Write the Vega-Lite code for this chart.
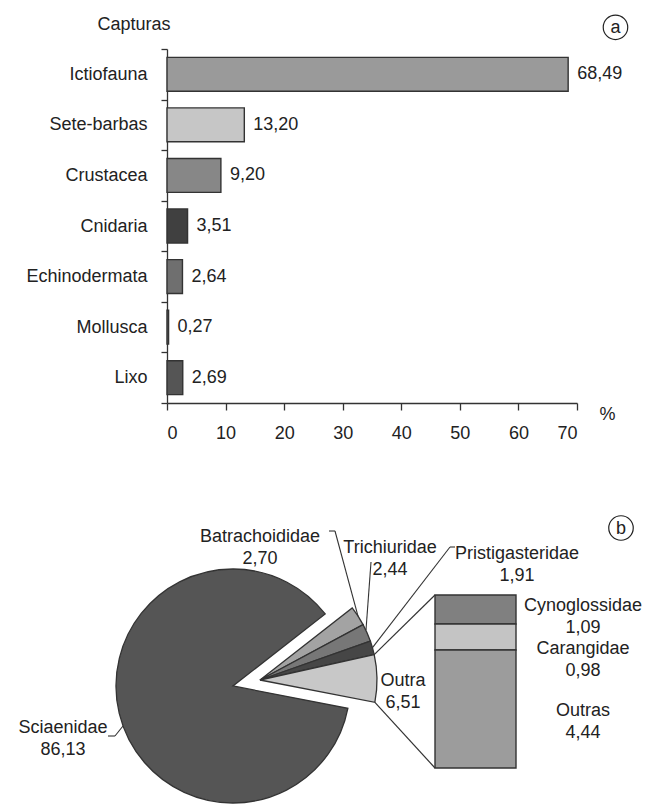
{
  "$schema": "https://vega.github.io/schema/vega-lite/v6.json",
  "width": 646,
  "height": 804,
  "autosize": {"type": "none"},
  "padding": 0,
  "background": "white",
  "config": {
    "view": {"stroke": null},
    "font": "Liberation Sans",
    "text": {"font": "Liberation Sans", "fontSize": 18, "color": "#222222"},
    "rule": {"stroke": "#333333", "strokeWidth": 1.1}
  },
  "datasets": {
    "capturas": [
      {"grupo": "Ictiofauna", "pct": 68.49},
      {"grupo": "Sete-barbas", "pct": 13.20},
      {"grupo": "Crustacea", "pct": 9.20},
      {"grupo": "Cnidaria", "pct": 3.51},
      {"grupo": "Echinodermata", "pct": 2.64},
      {"grupo": "Mollusca", "pct": 0.27},
      {"grupo": "Lixo", "pct": 2.69}
    ],
    "familias": [
      {"familia": "Batrachoididae", "pct": 2.70},
      {"familia": "Trichiuridae", "pct": 2.44},
      {"familia": "Pristigasteridae", "pct": 1.91},
      {"familia": "Outra", "pct": 6.51},
      {"familia": "Sciaenidae", "pct": 86.13}
    ],
    "outra": [
      {"familia": "Cynoglossidae", "pct": 1.09},
      {"familia": "Carangidae", "pct": 0.98},
      {"familia": "Outras", "pct": 4.44}
    ],
    "paineis": [{"painel": "a"}, {"painel": "b"}]
  },
  "resolve": {"scale": {"x": "independent", "y": "independent"}},
  "layer": [
    {
      "data": {"name": "capturas"},
      "mark": {"type": "bar", "height": {"band": 0.67}, "stroke": "#333333", "strokeWidth": 1.4},
      "encoding": {
        "y": {
          "field": "grupo", "type": "nominal", "sort": null,
          "scale": {"type": "band", "domain": ["Ictiofauna", "Sete-barbas", "Crustacea", "Cnidaria", "Echinodermata", "Mollusca", "Lixo"], "range": [49, 403], "paddingInner": 0, "paddingOuter": 0},
          "axis": {
            "orient": "left", "offset": -167, "tickBand": "extent", "tickSize": 6,
            "tickColor": "#333333", "tickWidth": 1.3, "domainColor": "#333333", "domainWidth": 1.3,
            "labelFont": "Liberation Sans", "labelFontSize": 18, "labelColor": "#222222", "labelPadding": 14, "labelLimit": 0,
            "grid": false,
            "title": "Capturas", "titleFont": "Liberation Sans", "titleFontSize": 18, "titleFontWeight": "normal", "titleColor": "#222222",
            "titleAngle": 0, "titleAlign": "left", "titleBaseline": "middle", "titleX": -70, "titleY": 24
          }
        },
        "x": {
          "field": "pct", "type": "quantitative",
          "scale": {"domain": [0, 70], "range": [167, 577], "nice": false, "zero": true},
          "axis": {
            "orient": "bottom", "offset": -401, "values": [0, 10, 20, 30, 40, 50, 60, 70], "tickSize": 7,
            "tickColor": "#333333", "tickWidth": 1.3, "domainColor": "#333333", "domainWidth": 1.3,
            "labelFont": "Liberation Sans", "labelFontSize": 18, "labelColor": "#222222", "labelPadding": 14,
            "grid": false,
            "title": "%", "titleFont": "Liberation Sans", "titleFontSize": 18, "titleFontWeight": "normal", "titleColor": "#222222",
            "titleAlign": "center", "titleBaseline": "middle", "titleX": 607, "titleY": 11
          }
        },
        "fill": {
          "field": "grupo", "type": "nominal", "legend": null,
          "scale": {
            "domain": ["Ictiofauna", "Sete-barbas", "Crustacea", "Cnidaria", "Echinodermata", "Mollusca", "Lixo", "Sciaenidae", "Batrachoididae", "Trichiuridae", "Pristigasteridae", "Outra", "Cynoglossidae", "Carangidae", "Outras"],
            "range": ["#9a9a9a", "#c6c6c6", "#878787", "#404040", "#6f6f6f", "#7a7a7a", "#555555", "#555555", "#a3a3a3", "#777777", "#464646", "#c8c8c8", "#808080", "#c4c4c4", "#9c9c9c"]
          }
        }
      }
    },
    {
      "data": {"name": "capturas"},
      "transform": [{"calculate": "replace(format(datum.pct, '.2f'), '.', ',')", "as": "rotulo"}],
      "mark": {"type": "text", "align": "left", "baseline": "middle", "dx": 9, "fontSize": 18},
      "encoding": {
        "y": {"field": "grupo", "type": "nominal", "sort": null, "axis": null,
              "scale": {"type": "band", "domain": ["Ictiofauna", "Sete-barbas", "Crustacea", "Cnidaria", "Echinodermata", "Mollusca", "Lixo"], "range": [49, 403], "paddingInner": 0, "paddingOuter": 0}},
        "x": {"field": "pct", "type": "quantitative", "axis": null, "scale": {"domain": [0, 70], "range": [167, 577], "nice": false, "zero": true}},
        "text": {"field": "rotulo"}
      }
    },
    {
      "data": {"name": "paineis"},
      "transform": [{"filter": "datum.painel === 'a'"}],
      "mark": {"type": "point", "shape": "circle", "filled": false, "size": 600, "stroke": "#222222", "strokeWidth": 1.2, "opacity": 1, "yOffset": -47},
      "encoding": {
        "x": {"datum": 76.57, "type": "quantitative", "axis": null, "scale": {"domain": [0, 70], "range": [167, 577], "nice": false, "zero": true}},
        "y": {"datum": "Ictiofauna", "type": "nominal", "axis": null,
              "scale": {"type": "band", "domain": ["Ictiofauna", "Sete-barbas", "Crustacea", "Cnidaria", "Echinodermata", "Mollusca", "Lixo"], "range": [49, 403], "paddingInner": 0, "paddingOuter": 0}}
      }
    },
    {
      "data": {"name": "paineis"},
      "transform": [{"filter": "datum.painel === 'a'"}],
      "mark": {"type": "text", "align": "center", "baseline": "middle", "fontSize": 18, "yOffset": -46},
      "encoding": {
        "x": {"datum": 76.57, "type": "quantitative", "axis": null, "scale": {"domain": [0, 70], "range": [167, 577], "nice": false, "zero": true}},
        "y": {"datum": "Ictiofauna", "type": "nominal", "axis": null,
              "scale": {"type": "band", "domain": ["Ictiofauna", "Sete-barbas", "Crustacea", "Cnidaria", "Echinodermata", "Mollusca", "Lixo"], "range": [49, 403], "paddingInner": 0, "paddingOuter": 0}},
        "text": {"field": "painel"}
      }
    },
    {
      "data": {"name": "familias"},
      "transform": [{"window": [{"op": "row_number", "as": "ordem"}]}],
      "mark": {"type": "arc", "radius": 117, "stroke": "#333333", "strokeWidth": 1.3},
      "encoding": {
        "x": {"datum": -2.4938, "type": "quantitative", "axis": null, "scale": {"domain": [0, 1], "range": [435, 516], "nice": false, "zero": false}},
        "y": {"datum": 3.0856, "type": "quantitative", "axis": null, "scale": {"domain": [0, 6.51], "range": [768, 595], "nice": false, "zero": false}},
        "theta": {"field": "pct", "type": "quantitative", "stack": true, "scale": {"range": [0.9076, 7.1908], "nice": false, "zero": true}},
        "order": {"field": "ordem", "type": "quantitative", "sort": "ascending"},
        "fill": {
          "field": "familia", "type": "nominal", "legend": null,
          "scale": {
            "domain": ["Ictiofauna", "Sete-barbas", "Crustacea", "Cnidaria", "Echinodermata", "Mollusca", "Lixo", "Sciaenidae", "Batrachoididae", "Trichiuridae", "Pristigasteridae", "Outra", "Cynoglossidae", "Carangidae", "Outras"],
            "range": ["#9a9a9a", "#c6c6c6", "#878787", "#404040", "#6f6f6f", "#7a7a7a", "#555555", "#555555", "#a3a3a3", "#777777", "#464646", "#c8c8c8", "#808080", "#c4c4c4", "#9c9c9c"]
          }
        },
        "opacity": {"condition": {"test": "datum.familia === 'Sciaenidae'", "value": 1}, "value": 0}
      }
    },
    {
      "data": {"name": "familias"},
      "transform": [{"window": [{"op": "row_number", "as": "ordem"}]}],
      "mark": {"type": "arc", "radius": 117, "stroke": "#333333", "strokeWidth": 1.3},
      "encoding": {
        "x": {"datum": -2.1605, "type": "quantitative", "axis": null, "scale": {"domain": [0, 1], "range": [435, 516], "nice": false, "zero": false}},
        "y": {"datum": 3.3114, "type": "quantitative", "axis": null, "scale": {"domain": [0, 6.51], "range": [768, 595], "nice": false, "zero": false}},
        "theta": {"field": "pct", "type": "quantitative", "stack": true, "scale": {"range": [0.9076, 7.1908], "nice": false, "zero": true}},
        "order": {"field": "ordem", "type": "quantitative", "sort": "ascending"},
        "fill": {
          "field": "familia", "type": "nominal", "legend": null,
          "scale": {
            "domain": ["Ictiofauna", "Sete-barbas", "Crustacea", "Cnidaria", "Echinodermata", "Mollusca", "Lixo", "Sciaenidae", "Batrachoididae", "Trichiuridae", "Pristigasteridae", "Outra", "Cynoglossidae", "Carangidae", "Outras"],
            "range": ["#9a9a9a", "#c6c6c6", "#878787", "#404040", "#6f6f6f", "#7a7a7a", "#555555", "#555555", "#a3a3a3", "#777777", "#464646", "#c8c8c8", "#808080", "#c4c4c4", "#9c9c9c"]
          }
        },
        "opacity": {"condition": {"test": "datum.familia === 'Sciaenidae'", "value": 0}, "value": 1}
      }
    },
    {
      "data": {"name": "outra"},
      "transform": [
        {"window": [{"op": "row_number", "as": "ordem"}]},
        {"stack": "pct", "groupby": [], "sort": [{"field": "ordem", "order": "descending"}], "as": ["y0", "y1"]}
      ],
      "mark": {"type": "rect", "stroke": "#333333", "strokeWidth": 1.4},
      "encoding": {
        "x": {"datum": 0, "type": "quantitative", "axis": null, "scale": {"domain": [0, 1], "range": [435, 516], "nice": false, "zero": false}},
        "x2": {"datum": 1},
        "y": {"field": "y0", "type": "quantitative", "axis": null, "scale": {"domain": [0, 6.51], "range": [768, 595], "nice": false, "zero": false}},
        "y2": {"field": "y1"},
        "fill": {
          "field": "familia", "type": "nominal", "legend": null,
          "scale": {
            "domain": ["Ictiofauna", "Sete-barbas", "Crustacea", "Cnidaria", "Echinodermata", "Mollusca", "Lixo", "Sciaenidae", "Batrachoididae", "Trichiuridae", "Pristigasteridae", "Outra", "Cynoglossidae", "Carangidae", "Outras"],
            "range": ["#9a9a9a", "#c6c6c6", "#878787", "#404040", "#6f6f6f", "#7a7a7a", "#555555", "#555555", "#a3a3a3", "#777777", "#464646", "#c8c8c8", "#808080", "#c4c4c4", "#9c9c9c"]
          }
        }
      }
    },
    {
      "data": {"name": "paineis"},
      "transform": [{"filter": "datum.painel === 'b'"}],
      "mark": {"type": "rule", "strokeWidth": 1.2},
      "encoding": {
        "x": {"datum": -0.7506, "type": "quantitative", "axis": null, "scale": {"domain": [0, 1], "range": [435, 516], "nice": false, "zero": false}},
        "y": {"datum": 4.267, "type": "quantitative", "axis": null, "scale": {"domain": [0, 6.51], "range": [768, 595], "nice": false, "zero": false}},
        "x2": {"datum": 0},
        "y2": {"datum": 6.51}
      }
    },
    {
      "data": {"name": "paineis"},
      "transform": [{"filter": "datum.painel === 'b'"}],
      "mark": {"type": "rule", "strokeWidth": 1.2},
      "encoding": {
        "x": {"datum": -0.742, "type": "quantitative", "axis": null, "scale": {"domain": [0, 1], "range": [435, 516], "nice": false, "zero": false}},
        "y": {"datum": 2.472, "type": "quantitative", "axis": null, "scale": {"domain": [0, 6.51], "range": [768, 595], "nice": false, "zero": false}},
        "x2": {"datum": 0},
        "y2": {"datum": 0}
      }
    },
    {
      "data": {"name": "paineis"},
      "transform": [{"filter": "datum.painel === 'b'"}],
      "mark": {"type": "rule"},
      "encoding": {
        "x": {"datum": -1.3086, "type": "quantitative", "axis": null, "scale": {"domain": [0, 1], "range": [435, 516], "nice": false, "zero": false}},
        "y": {"datum": 8.918, "type": "quantitative", "axis": null, "scale": {"domain": [0, 6.51], "range": [768, 595], "nice": false, "zero": false}},
        "x2": {"datum": -1.2346},
        "y2": {"datum": 8.918}
      }
    },
    {
      "data": {"name": "paineis"},
      "transform": [{"filter": "datum.painel === 'b'"}],
      "mark": {"type": "rule"},
      "encoding": {
        "x": {"datum": -1.2346, "type": "quantitative", "axis": null, "scale": {"domain": [0, 1], "range": [435, 516], "nice": false, "zero": false}},
        "y": {"datum": 8.918, "type": "quantitative", "axis": null, "scale": {"domain": [0, 6.51], "range": [768, 595], "nice": false, "zero": false}},
        "x2": {"datum": -0.9506},
        "y2": {"datum": 5.716}
      }
    },
    {
      "data": {"name": "paineis"},
      "transform": [{"filter": "datum.painel === 'b'"}],
      "mark": {"type": "rule"},
      "encoding": {
        "x": {"datum": -0.7901, "type": "quantitative", "axis": null, "scale": {"domain": [0, 1], "range": [435, 516], "nice": false, "zero": false}},
        "y": {"datum": 7.752, "type": "quantitative", "axis": null, "scale": {"domain": [0, 6.51], "range": [768, 595], "nice": false, "zero": false}},
        "x2": {"datum": -0.8519},
        "y2": {"datum": 5.193}
      }
    },
    {
      "data": {"name": "paineis"},
      "transform": [{"filter": "datum.painel === 'b'"}],
      "mark": {"type": "rule"},
      "encoding": {
        "x": {"datum": 0.1852, "type": "quantitative", "axis": null, "scale": {"domain": [0, 1], "range": [435, 516], "nice": false, "zero": false}},
        "y": {"datum": 8.316, "type": "quantitative", "axis": null, "scale": {"domain": [0, 6.51], "range": [768, 595], "nice": false, "zero": false}},
        "x2": {"datum": 0.2469},
        "y2": {"datum": 8.316}
      }
    },
    {
      "data": {"name": "paineis"},
      "transform": [{"filter": "datum.painel === 'b'"}],
      "mark": {"type": "rule"},
      "encoding": {
        "x": {"datum": 0.1852, "type": "quantitative", "axis": null, "scale": {"domain": [0, 1], "range": [435, 516], "nice": false, "zero": false}},
        "y": {"datum": 8.316, "type": "quantitative", "axis": null, "scale": {"domain": [0, 6.51], "range": [768, 595], "nice": false, "zero": false}},
        "x2": {"datum": -0.7716},
        "y2": {"datum": 4.527}
      }
    },
    {
      "data": {"name": "paineis"},
      "transform": [{"filter": "datum.painel === 'b'"}],
      "mark": {"type": "rule"},
      "encoding": {
        "x": {"datum": -4.037, "type": "quantitative", "axis": null, "scale": {"domain": [0, 1], "range": [435, 516], "nice": false, "zero": false}},
        "y": {"datum": 1.204, "type": "quantitative", "axis": null, "scale": {"domain": [0, 6.51], "range": [768, 595], "nice": false, "zero": false}},
        "x2": {"datum": -3.951},
        "y2": {"datum": 1.204}
      }
    },
    {
      "data": {"name": "paineis"},
      "transform": [{"filter": "datum.painel === 'b'"}],
      "mark": {"type": "rule"},
      "encoding": {
        "x": {"datum": -3.951, "type": "quantitative", "axis": null, "scale": {"domain": [0, 1], "range": [435, 516], "nice": false, "zero": false}},
        "y": {"datum": 1.204, "type": "quantitative", "axis": null, "scale": {"domain": [0, 6.51], "range": [768, 595], "nice": false, "zero": false}},
        "x2": {"datum": -3.852},
        "y2": {"datum": 1.58}
      }
    },
    {
      "data": {"name": "familias"},
      "transform": [
        {"filter": "datum.familia === 'Sciaenidae'"},
        {"calculate": "[datum.familia, replace(format(datum.pct, '.2f'), '.', ',')]", "as": "rotulo"}
      ],
      "mark": {"type": "text", "align": "center", "baseline": "middle", "lineHeight": 22, "fontSize": 18},
      "encoding": {
        "x": {"datum": -4.5926, "type": "quantitative", "axis": null, "scale": {"domain": [0, 1], "range": [435, 516], "nice": false, "zero": false}},
        "y": {"datum": 1.524, "type": "quantitative", "axis": null, "scale": {"domain": [0, 6.51], "range": [768, 595], "nice": false, "zero": false}},
        "text": {"field": "rotulo"}
      }
    },
    {
      "data": {"name": "familias"},
      "transform": [
        {"filter": "datum.familia === 'Batrachoididae'"},
        {"calculate": "[datum.familia, replace(format(datum.pct, '.2f'), '.', ',')]", "as": "rotulo"}
      ],
      "mark": {"type": "text", "align": "center", "baseline": "middle", "lineHeight": 22, "fontSize": 18},
      "encoding": {
        "x": {"datum": -2.1605, "type": "quantitative", "axis": null, "scale": {"domain": [0, 1], "range": [435, 516], "nice": false, "zero": false}},
        "y": {"datum": 8.674, "type": "quantitative", "axis": null, "scale": {"domain": [0, 6.51], "range": [768, 595], "nice": false, "zero": false}},
        "text": {"field": "rotulo"}
      }
    },
    {
      "data": {"name": "familias"},
      "transform": [
        {"filter": "datum.familia === 'Trichiuridae'"},
        {"calculate": "[datum.familia, replace(format(datum.pct, '.2f'), '.', ',')]", "as": "rotulo"}
      ],
      "mark": {"type": "text", "align": "center", "baseline": "middle", "lineHeight": 22, "fontSize": 18},
      "encoding": {
        "x": {"datum": -0.5556, "type": "quantitative", "axis": null, "scale": {"domain": [0, 1], "range": [435, 516], "nice": false, "zero": false}},
        "y": {"datum": 8.26, "type": "quantitative", "axis": null, "scale": {"domain": [0, 6.51], "range": [768, 595], "nice": false, "zero": false}},
        "text": {"field": "rotulo"}
      }
    },
    {
      "data": {"name": "familias"},
      "transform": [
        {"filter": "datum.familia === 'Pristigasteridae'"},
        {"calculate": "[datum.familia, replace(format(datum.pct, '.2f'), '.', ',')]", "as": "rotulo"}
      ],
      "mark": {"type": "text", "align": "center", "baseline": "middle", "lineHeight": 22, "fontSize": 18},
      "encoding": {
        "x": {"datum": 1.0123, "type": "quantitative", "axis": null, "scale": {"domain": [0, 1], "range": [435, 516], "nice": false, "zero": false}},
        "y": {"datum": 8.053, "type": "quantitative", "axis": null, "scale": {"domain": [0, 6.51], "range": [768, 595], "nice": false, "zero": false}},
        "text": {"field": "rotulo"}
      }
    },
    {
      "data": {"name": "familias"},
      "transform": [
        {"filter": "datum.familia === 'Outra'"},
        {"calculate": "[datum.familia, replace(format(datum.pct, '.2f'), '.', ',')]", "as": "rotulo"}
      ],
      "mark": {"type": "text", "align": "center", "baseline": "middle", "lineHeight": 22, "fontSize": 18},
      "encoding": {
        "x": {"datum": -0.3951, "type": "quantitative", "axis": null, "scale": {"domain": [0, 1], "range": [435, 516], "nice": false, "zero": false}},
        "y": {"datum": 3.274, "type": "quantitative", "axis": null, "scale": {"domain": [0, 6.51], "range": [768, 595], "nice": false, "zero": false}},
        "text": {"field": "rotulo"}
      }
    },
    {
      "data": {"name": "outra"},
      "transform": [
        {"filter": "datum.familia === 'Cynoglossidae'"},
        {"calculate": "[datum.familia, replace(format(datum.pct, '.2f'), '.', ',')]", "as": "rotulo"}
      ],
      "mark": {"type": "text", "align": "center", "baseline": "middle", "lineHeight": 22, "fontSize": 18},
      "encoding": {
        "x": {"datum": 1.8272, "type": "quantitative", "axis": null, "scale": {"domain": [0, 1], "range": [435, 516], "nice": false, "zero": false}},
        "y": {"datum": 6.096, "type": "quantitative", "axis": null, "scale": {"domain": [0, 6.51], "range": [768, 595], "nice": false, "zero": false}},
        "text": {"field": "rotulo"}
      }
    },
    {
      "data": {"name": "outra"},
      "transform": [
        {"filter": "datum.familia === 'Carangidae'"},
        {"calculate": "[datum.familia, replace(format(datum.pct, '.2f'), '.', ',')]", "as": "rotulo"}
      ],
      "mark": {"type": "text", "align": "center", "baseline": "middle", "lineHeight": 22, "fontSize": 18},
      "encoding": {
        "x": {"datum": 1.8272, "type": "quantitative", "axis": null, "scale": {"domain": [0, 1], "range": [435, 516], "nice": false, "zero": false}},
        "y": {"datum": 4.478, "type": "quantitative", "axis": null, "scale": {"domain": [0, 6.51], "range": [768, 595], "nice": false, "zero": false}},
        "text": {"field": "rotulo"}
      }
    },
    {
      "data": {"name": "outra"},
      "transform": [
        {"filter": "datum.familia === 'Outras'"},
        {"calculate": "[datum.familia, replace(format(datum.pct, '.2f'), '.', ',')]", "as": "rotulo"}
      ],
      "mark": {"type": "text", "align": "center", "baseline": "middle", "lineHeight": 22, "fontSize": 18},
      "encoding": {
        "x": {"datum": 1.8272, "type": "quantitative", "axis": null, "scale": {"domain": [0, 1], "range": [435, 516], "nice": false, "zero": false}},
        "y": {"datum": 2.145, "type": "quantitative", "axis": null, "scale": {"domain": [0, 6.51], "range": [768, 595], "nice": false, "zero": false}},
        "text": {"field": "rotulo"}
      }
    },
    {
      "data": {"name": "paineis"},
      "transform": [{"filter": "datum.painel === 'b'"}],
      "mark": {"type": "point", "shape": "circle", "filled": false, "size": 600, "stroke": "#222222", "strokeWidth": 1.2, "opacity": 1},
      "encoding": {
        "x": {"datum": 2.2963, "type": "quantitative", "axis": null, "scale": {"domain": [0, 1], "range": [435, 516], "nice": false, "zero": false}},
        "y": {"datum": 9.031, "type": "quantitative", "axis": null, "scale": {"domain": [0, 6.51], "range": [768, 595], "nice": false, "zero": false}}
      }
    },
    {
      "data": {"name": "paineis"},
      "transform": [{"filter": "datum.painel === 'b'"}],
      "mark": {"type": "text", "align": "center", "baseline": "middle", "fontSize": 18, "dy": 1},
      "encoding": {
        "x": {"datum": 2.2963, "type": "quantitative", "axis": null, "scale": {"domain": [0, 1], "range": [435, 516], "nice": false, "zero": false}},
        "y": {"datum": 9.031, "type": "quantitative", "axis": null, "scale": {"domain": [0, 6.51], "range": [768, 595], "nice": false, "zero": false}},
        "text": {"field": "painel"}
      }
    }
  ]
}
